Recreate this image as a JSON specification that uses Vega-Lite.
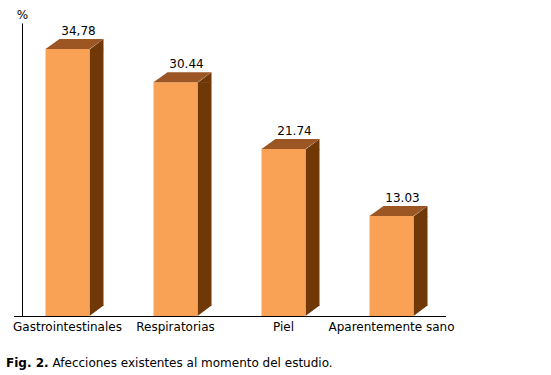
{
  "$schema": "https://vega.github.io/schema/vega-lite/v6.json",
  "autosize": "none",
  "width": 433,
  "height": 293,
  "padding": {"left": 22, "top": 23, "right": 96, "bottom": 59},
  "background": "white",
  "config": {
    "view": {"stroke": null},
    "font": "DejaVu Sans",
    "axis": {"grid": false}
  },
  "title": {
    "text": "Fig. 2.",
    "orient": "bottom",
    "anchor": "start",
    "frame": "group",
    "font": "DejaVu Sans",
    "fontSize": 12,
    "fontWeight": "bold",
    "color": "black",
    "dx": -16,
    "dy": -19,
    "offset": 9
  },
  "data": {
    "values": [
      {"cat": "Gastrointestinales", "v": 34.78, "label": "34,78"},
      {"cat": "Respiratorias", "v": 30.44, "label": "30.44"},
      {"cat": "Piel", "v": 21.74, "label": "21.74"},
      {"cat": "Aparentemente sano", "v": 13.03, "label": "13.03"}
    ]
  },
  "encoding": {
    "x": {
      "field": "cat",
      "type": "nominal",
      "sort": null,
      "scale": {"type": "band", "range": [-8.5, 423.5], "paddingInner": 0, "paddingOuter": 0},
      "axis": {
        "orient": "bottom",
        "domain": true,
        "domainColor": "black",
        "ticks": false,
        "labelAngle": 0,
        "labelFontSize": 12,
        "labelFont": "DejaVu Sans",
        "labelColor": "black",
        "labelPadding": 5,
        "title": "Afecciones existentes al momento del estudio.",
        "titleFont": "DejaVu Sans",
        "titleFontSize": 12,
        "titleFontWeight": "normal",
        "titleColor": "black",
        "titleAnchor": "start",
        "titleAlign": "left",
        "titleBaseline": "alphabetic",
        "titleX": 30,
        "titleY": 50
      }
    },
    "y": {
      "field": "v",
      "type": "quantitative",
      "scale": {"domain": [0, 38.15], "nice": false, "zero": true},
      "axis": {
        "domain": true,
        "domainColor": "black",
        "ticks": false,
        "labels": false,
        "grid": false,
        "title": "%",
        "titleAngle": 0,
        "titleFont": "DejaVu Sans",
        "titleFontSize": 12,
        "titleFontWeight": "normal",
        "titleColor": "black",
        "titleAlign": "center",
        "titleBaseline": "alphabetic",
        "titleX": 0,
        "titleY": -5
      }
    }
  },
  "layer": [
    {
      "mark": {"type": "bar", "width": 14, "xOffset": 29, "y2Offset": -10, "color": "#703806", "cornerRadius": 0},
      "encoding": {"y2": {"datum": 0}}
    },
    {
      "mark": {"type": "point", "shape": "M22,0 L22,-10.5 L36,-10.5 Z", "size": 4, "filled": true, "opacity": 1, "color": "#703806", "strokeWidth": 0},
      "encoding": {"y": {"datum": 0}}
    },
    {
      "mark": {"type": "bar", "width": 44, "color": "#F9A154"},
      "encoding": {"y2": {"datum": 0}}
    },
    {
      "mark": {"type": "point", "shape": "M-22,0 L-8,-10 L36,-10 L22,0 Z", "size": 4, "filled": true, "opacity": 1, "color": "#9B5624", "strokeWidth": 0}
    },
    {
      "mark": {"type": "point", "shape": "M22,0.5 L36,-10 L36,0.5 Z", "size": 4, "filled": true, "opacity": 1, "color": "#703806", "strokeWidth": 0}
    },
    {
      "mark": {"type": "text", "dx": 11, "dy": -14, "baseline": "alphabetic", "align": "center", "fontSize": 12, "font": "DejaVu Sans", "color": "black"},
      "encoding": {"text": {"field": "label"}}
    }
  ]
}
